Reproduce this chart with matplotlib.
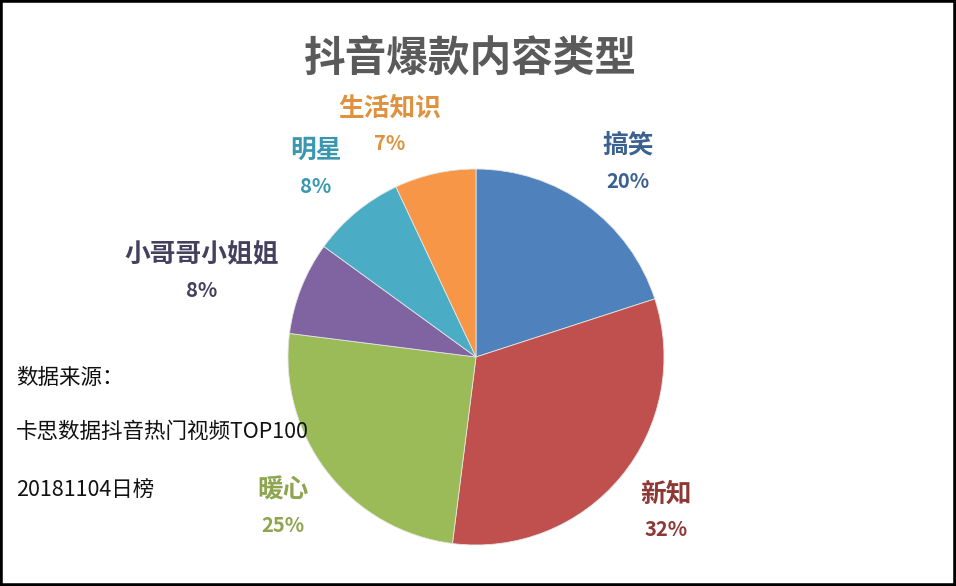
import matplotlib.pyplot as plt
from matplotlib.patches import Rectangle

plt.rcParams['font.family'] = ['Noto Sans CJK SC', 'DejaVu Sans']

# data
categories = ['搞笑', '新知', '暖心', '小哥哥小姐姐', '明星', '生活知识']
shares = [20, 32, 25, 8, 8, 7]
slice_colors = ['#4F81BD', '#C0504D', '#9BBB59', '#8064A2', '#4BACC6', '#F79646']
label_colors = ['#3B6190', '#8E3836', '#8DA54F', '#45405E', '#3A97B0', '#E0913E']
# label anchor points in figure pixels (x, y from top)
label_pos = [(628, 145), (666, 494), (283, 490), (202, 255), (316, 150), (390, 108)]

W, H = 956, 586
fig = plt.figure(figsize=(W / 100, H / 100), dpi=100)
fig.patch.set_facecolor('white')

# pie axes
cx, cy, r = 476, 357, 188
ax = fig.add_axes([(cx - r) / W, 1 - (cy + r) / H, 2 * r / W, 2 * r / H])
ax.pie(shares, colors=slice_colors, startangle=90, counterclock=False,
       wedgeprops=dict(linewidth=0.6, edgecolor='#e4e4e4'))
ax.set_xlim(-1, 1)
ax.set_ylim(-1, 1)
ax.set_aspect('equal')
ax.axis('off')

# title
fig.text(470 / W, 1 - 60 / H, '抖音爆款内容类型', ha='center', va='center',
         fontsize=30, fontweight='bold', color='#5a5a5a')

# category labels
for name, val, col, (lx, ly) in zip(categories, shares, label_colors, label_pos):
    fig.text(lx / W, 1 - ly / H, name, ha='center', va='center',
             fontsize=18.5, fontweight='bold', color=col)
    fig.text(lx / W, 1 - (ly + 36) / H, f'{val}%', ha='center', va='center',
             fontsize=14.5, fontweight='bold', color=col)

# source note
src_lines = ['数据来源：', '卡思数据抖音热门视频TOP100', '20181104日榜']
src_y = [378, 432, 490]
for txt, yy in zip(src_lines, src_y):
    fig.text(16 / W, 1 - yy / H, txt, ha='left', va='center',
             fontsize=15.5, color='#111111')

# black frame
fig.patches.append(Rectangle((0, 0), 1, 1, transform=fig.transFigure,
                             fill=False, edgecolor='black', linewidth=4))

fig.savefig('out.png', dpi=100)
